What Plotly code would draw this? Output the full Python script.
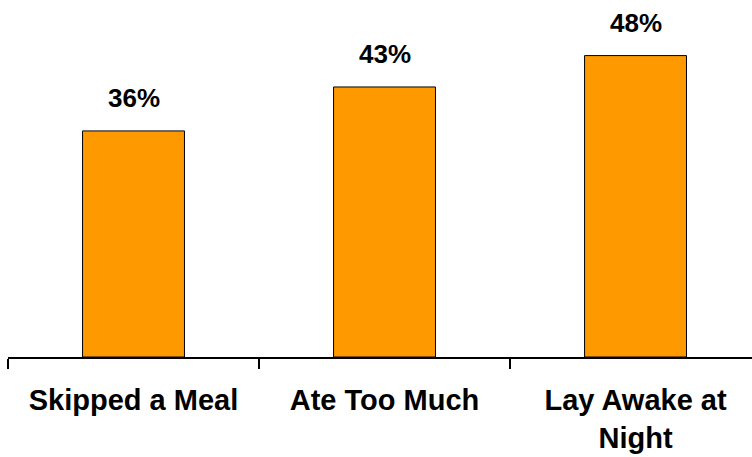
import plotly.graph_objects as go

categories = ["Skipped a Meal", "Ate Too Much", "Lay Awake at<br>Night"]
values = [36, 43, 48]
value_labels = ["36%", "43%", "48%"]

xpos = list(range(len(categories)))

fig = go.Figure()
fig.add_trace(go.Bar(
    x=xpos, y=values, width=0.406,
    marker=dict(color="#FF9900", line=dict(color="black", width=1)),
    hoverinfo="skip",
))

for xi, v, lab in zip(xpos, values, value_labels):
    fig.add_annotation(x=xi, y=v, text="<b>%s</b>" % lab, showarrow=False,
                       yanchor="bottom", yshift=16,
                       font=dict(family="Liberation Sans, Arial", size=26, color="black"))

fig.update_layout(
    width=752, height=457,
    margin=dict(l=8, r=0, t=0, b=100),
    paper_bgcolor="white", plot_bgcolor="white",
    showlegend=False,
    font=dict(family="Liberation Sans, Arial", color="black"),
    xaxis=dict(
        range=[-0.5, 2.464],
        tickvals=xpos,
        ticktext=["<b>%s</b>" % c for c in categories],
        ticks="", showgrid=False, zeroline=False,
        showline=True, linecolor="black", linewidth=2,
        tickfont=dict(family="Liberation Sans, Arial", size=29, color="black"),
        ticklabelstandoff=16,
        minor=dict(tick0=-0.5, dtick=1, ticks="outside", ticklen=10,
                   tickwidth=2, tickcolor="black", showgrid=False),
        automargin=False,
    ),
    yaxis=dict(range=[0, 56.85], visible=False, showgrid=False, zeroline=False),
)

fig.write_html("out.html", config={"displayModeBar": False},
               post_script="document.body.style.margin='0';document.body.style.overflow='hidden';")
